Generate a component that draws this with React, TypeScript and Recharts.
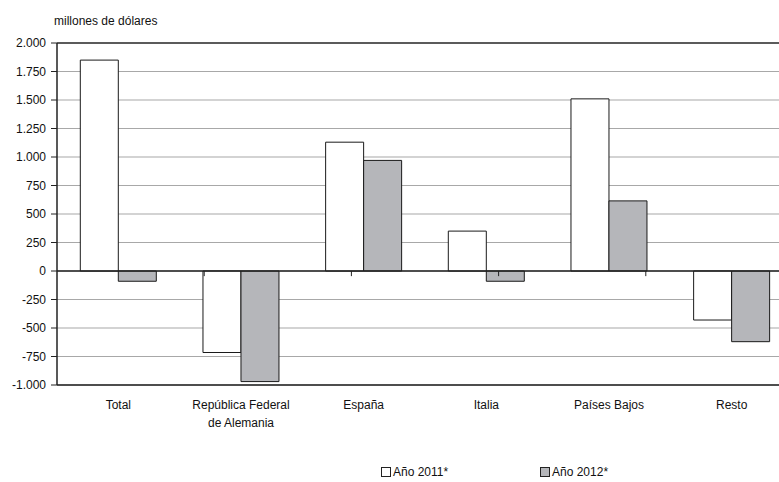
import React from 'react';
import { BarChart, Bar, XAxis, YAxis, CartesianGrid, ReferenceLine, Legend } from 'recharts';

const categories = ['Total', 'República Federal\nde Alemania', 'España', 'Italia', 'Países Bajos', 'Resto'];
const year2011 = [1850, -715, 1130, 350, 1510, -430];
const year2012 = [-90, -970, 970, -90, 615, -620];
const seriesNames = ['Año 2011*', 'Año 2012*'];
const yTicks = [-1000, -750, -500, -250, 0, 250, 500, 750, 1000, 1250, 1500, 1750, 2000];
const unitLabel = 'millones de dólares';

const data = categories.map((name, i) => ({ name, y2011: year2011[i], y2012: year2012[i] }));
const boundaries = categories.slice(1).map((_, i) => i + 1);

const FONT = '"Liberation Sans", Arial, sans-serif';

const fmt = (v: number) => {
  const s = Math.abs(v).toString().replace(/\B(?=(\d{3})+(?!\d))/g, '.');
  return (v < 0 ? '-' : '') + s;
};

const CatTick = (props: any) => {
  const { x, y, payload } = props;
  const lines = String(payload.value).split('\n');
  return (
    <text x={x} y={y} textAnchor="middle" fontSize={12} fill="#111" fontFamily={FONT}>
      {lines.map((l, i) => (
        <tspan key={i} x={x} dy={i === 0 ? 16 : 17.5}>{l}</tspan>
      ))}
    </text>
  );
};

const LegendContent = (props: any) => {
  const { payload } = props;
  const lefts = [381, 540];
  return (
    <div style={{ position: 'relative', height: 20, width: 779, fontFamily: FONT, fontSize: 12, color: '#111' }}>
      {(payload || []).map((e: any, i: number) => (
        <div key={i} style={{ position: 'absolute', left: lefts[i], top: 0, height: 20, display: 'flex', alignItems: 'center' }}>
          <span style={{ display: 'inline-block', width: 8, height: 8, border: '1px solid #222', background: e.color, marginRight: 2 }} />
          <span>{e.value}</span>
        </div>
      ))}
    </div>
  );
};

export default function App() {
  return (
    <div style={{ position: 'absolute', left: 0, top: 0, width: 779, height: 482, overflow: 'hidden', background: '#fff', fontFamily: FONT }}>
      <div style={{ position: 'absolute', left: 54, top: 13, fontSize: 12, color: '#111', lineHeight: '16px' }}>{unitLabel}</div>
      <BarChart
        width={800}
        height={482}
        data={data}
        margin={{ top: 43, right: 7, bottom: 0, left: 0 }}
        barCategoryGap="19%"
        barGap={0}
      >
        <CartesianGrid vertical={false} stroke="#a8a8a8" strokeWidth={1.2} />
        <XAxis
          dataKey="name"
          height={77}
          interval={0}
          tickLine={false}
          axisLine={{ stroke: '#222', strokeWidth: 1.5 }}
          tick={<CatTick />}
        />
        <XAxis xAxisId="n" type="number" domain={[0, categories.length]} hide />
        <YAxis
          width={57}
          domain={[-1000, 2000]}
          ticks={yTicks}
          interval={0}
          tickFormatter={fmt}
          tickSize={6}
          tickMargin={5}
          axisLine={{ stroke: '#222', strokeWidth: 1.5 }}
          tickLine={{ stroke: '#222' }}
          tick={{ fontSize: 12, fill: '#111', fontFamily: FONT }}
        />
        <ReferenceLine y={2000} stroke="#333" strokeWidth={1.5} />
        <Legend verticalAlign="bottom" align="left" wrapperStyle={{ left: 0, width: 779 }} content={<LegendContent />} />
        <Bar dataKey="y2011" name={seriesNames[0]} fill="#ffffff" stroke="#1a1a1a" strokeWidth={1} isAnimationActive={false} />
        <Bar dataKey="y2012" name={seriesNames[1]} fill="#b5b6ba" stroke="#1a1a1a" strokeWidth={1} isAnimationActive={false} />
        <ReferenceLine y={0} stroke="#222" strokeWidth={1.5} />
        {boundaries.map((b) => (
          <ReferenceLine
            key={b}
            xAxisId="n"
            segment={[{ x: b, y: 0 }, { x: b, y: -45 }]}
            stroke="#222"
            strokeWidth={1}
          />
        ))}
      </BarChart>
    </div>
  );
}
